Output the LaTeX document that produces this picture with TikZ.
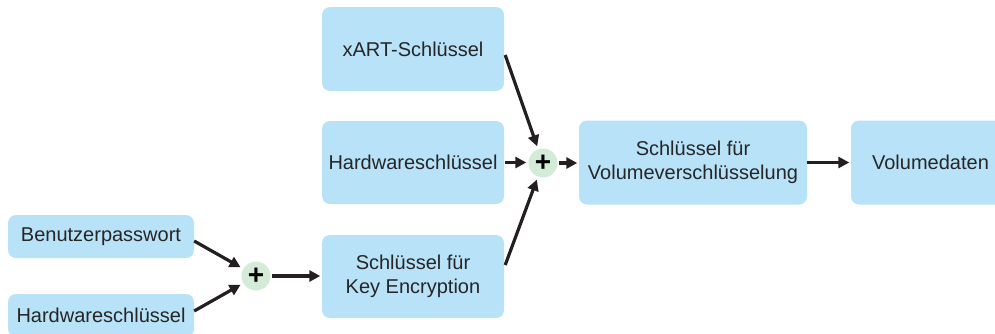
\documentclass[tikz,border=0pt]{standalone}
\usepackage{fontspec}
\setmainfont{Liberation Sans}
\usetikzlibrary{arrows.meta}
\definecolor{boxblue}{HTML}{B8E2F8}
\definecolor{plusgreen}{HTML}{D4EBD8}
\definecolor{ink}{HTML}{262626}
\definecolor{arrowc}{HTML}{231F20}
\begin{document}
\begin{tikzpicture}[x=1pt,y=-1pt,
  box/.style={fill=boxblue, rounded corners=8pt, inner sep=0pt, align=center,
    text=ink, font=\fontsize{20}{24}\selectfont},
  plusnode/.style={circle, fill=plusgreen, minimum size=29pt, inner sep=0pt,
    text=black, font=\fontsize{28}{28}\selectfont\bfseries},
  arr/.style={draw=arrowc, line width=3.2pt, -{Triangle[length=11pt,width=11pt]}}]
\clip (0,0) rectangle (995,333);
\node[box, minimum width=182pt, minimum height=84pt] (xart) at (413,49) {xART-Schlüssel};
\node[box, minimum width=182pt, minimum height=83pt] (hw2) at (413,162.5) {Hardwareschlüssel};
\node[box, minimum width=182pt, minimum height=83pt] (kek) at (413,276.5) {Schlüssel für\\Key Encryption};
\node[box, minimum width=186pt, minimum height=43pt] (pw) at (101,236.5) {Benutzerpasswort};
\node[box, minimum width=186pt, minimum height=43pt] (hw1) at (101,315.5) {Hardwareschlüssel};
\node[box, minimum width=228pt, minimum height=84pt] (vek) at (693,162.5) {Schlüssel für\\Volumeverschlüsselung};
\node[box, minimum width=159pt, minimum height=84pt] (vol) at (930.5,162.5) {Volumedaten};
\node[plusnode] (plus1) at (256,276) {+};
\node[plusnode] (plus2) at (543,163) {+};
\draw[arr, shorten >=3pt] ([yshift=-4.5pt]pw.east) -- (plus1);
\draw[arr, shorten >=3pt] ([yshift=4.5pt]hw1.east) -- (plus1);
\draw[arr, shorten <=1pt, shorten >=1.5pt] (plus1) -- (plus1 -| kek.west);
\draw[arr, shorten >=3pt] ([xshift=1pt,yshift=-6pt]xart.east) -- (plus2);
\draw[arr, shorten <=1pt, shorten >=2pt] (hw2.east) -- (hw2.east -| plus2.west);
\draw[arr, shorten >=3pt] ([xshift=1pt,yshift=11.5pt]kek.east) -- (plus2);
\draw[arr, shorten <=1pt, shorten >=1.5pt] (plus2) -- (plus2 -| vek.west);
\draw[arr, shorten >=1.5pt] (vek.east) -- (vek.east -| vol.west);
\end{tikzpicture}
\end{document}
